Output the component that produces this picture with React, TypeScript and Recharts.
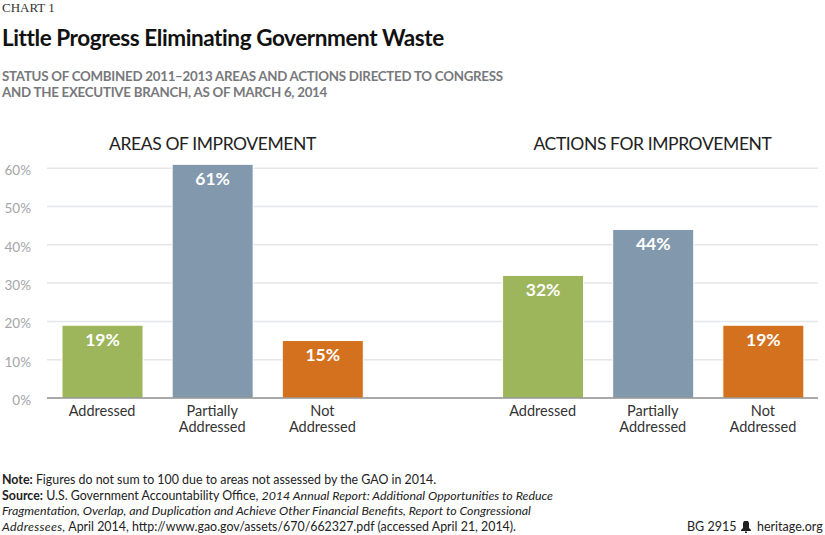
import React from "react";
import { BarChart, Bar, XAxis, YAxis, CartesianGrid, Cell, LabelList } from "recharts";

const categories = ["Addressed", "Partially|Addressed", "Not|Addressed", "", "Addressed ", "Partially|Addressed ", "Not|Addressed "];
const values: (number | null)[] = [19, 61, 15, null, 32, 44, 19];
const colors = ["#9DB65B", "#8299AD", "#D4711F", "#FFFFFF", "#9DB65B", "#8299AD", "#D4711F"];
const yTicks = [0, 10, 20, 30, 40, 50, 60];
const data = categories.map((name, i) => ({ name, value: values[i] }));
const FONT = "Lato, sans-serif";

const XTick = ({ x, y, payload }: any) => {
  const lines = String(payload.value).trim().split("|");
  return (
    <text x={x} y={y} textAnchor="middle" fontFamily={FONT} fontSize={14.5} fill="#333">
      {lines.map((l: string, i: number) => (
        <tspan key={i} x={x} dy={i === 0 ? 10 : 16}>{l}</tspan>
      ))}
    </text>
  );
};

const YTick = ({ y, payload }: any) => (
  <text x={31} y={y + 7} textAnchor="end" fontFamily={FONT} fontSize={13.5} fill="#A3A5A8">{payload.value}%</text>
);

const abs = (x: number, y: number, style: React.CSSProperties = {}): React.CSSProperties => ({
  position: "absolute", left: x, top: y, fontFamily: FONT, whiteSpace: "nowrap", margin: 0, ...style,
});

export default function App() {
  return (
    <div style={{ position: "absolute", left: 0, top: 0, width: 825, height: 535, background: "#fff", overflow: "hidden" }}>
      <div style={abs(2, 1, { fontFamily: "'Liberation Serif', serif", fontSize: 13, lineHeight: "14px", color: "#333" })}>CHART 1</div>
      <div style={abs(2, 23, { fontSize: 22.5, fontWeight: 700, lineHeight: "30px", color: "#111", letterSpacing: -0.42 })}>Little Progress Eliminating Government Waste</div>
      <div style={abs(2, 68, { fontSize: 13.3, fontWeight: 700, lineHeight: "16px", color: "#77787B", letterSpacing: -0.25 })}>
        STATUS OF COMBINED 2011–2013 AREAS AND ACTIONS DIRECTED TO CONGRESS<br />AND THE EXECUTIVE BRANCH, AS OF MARCH 6, 2014
      </div>

      <div style={{ position: "absolute", left: 0, top: 140 }}>
        <BarChart width={825} height={300} data={data} margin={{ top: 9, right: 7, bottom: 0, left: 0 }} barSize={81}>
          <CartesianGrid horizontal vertical={false} syncWithTicks stroke="#E4E6E9" strokeWidth={1.5} />
          <XAxis dataKey="name" height={42} interval={0} tick={<XTick />} tickLine={false} axisLine={{ stroke: "#666", strokeWidth: 1 }} />
          <YAxis type="number" domain={[0, 65]} ticks={yTicks} width={47} axisLine={false} tickLine={false} tick={<YTick />} />
          <Bar dataKey="value" isAnimationActive={false} stroke="#fff" strokeWidth={1}>
            {data.map((d, i) => <Cell key={i} fill={colors[i]} />)}
            <LabelList dataKey="value" position="insideTop" offset={8} fill="#fff" fontFamily={FONT} fontWeight={700} fontSize={17.5}
              formatter={(v: any) => (v == null ? "" : `${v}%`)} />
          </Bar>
        </BarChart>
      </div>

      <div style={abs(212.5, 133, { fontSize: 17.5, letterSpacing: -0.4, lineHeight: "22px", color: "#222", transform: "translateX(-50%)" })}>AREAS OF IMPROVEMENT</div>
      <div style={abs(652.5, 133, { fontSize: 17.5, letterSpacing: -0.4, lineHeight: "22px", color: "#222", transform: "translateX(-50%)" })}>ACTIONS FOR IMPROVEMENT</div>

      <div style={abs(2, 472, { fontSize: 12.4, lineHeight: "15.5px", color: "#222" })}>
        <b>Note:</b> Figures do not sum to 100 due to areas not assessed by the GAO in 2014.<br />
        <b>Source:</b> U.S. Government Accountability Office, <i>2014 Annual Report: Additional Opportunities to Reduce</i><br />
        <i>Fragmentation, Overlap, and Duplication and Achieve Other Financial Benefits, Report to Congressional</i><br />
        <i style={{ letterSpacing: 0.3 }}>Addressees,</i> April 2014, http://www.gao.gov/assets/670/662327.pdf (accessed April 21, 2014).
      </div>
      <div style={abs(687, 519, { fontSize: 12.5, lineHeight: "16px", color: "#222" })}>BG 2915</div>
      <svg style={{ position: "absolute", left: 740, top: 520 }} width={12} height={13} viewBox="0 0 12 13">
        <path d="M4 1 H8 L9 3 V8 L11 10 V11 H1 V10 L3 8 V3 Z" fill="#222" />
        <rect x={5} y={11.5} width={2} height={1.5} fill="#222" />
      </svg>
      <div style={abs(757, 519, { fontSize: 12.5, lineHeight: "16px", color: "#222" })}>heritage.org</div>
    </div>
  );
}
